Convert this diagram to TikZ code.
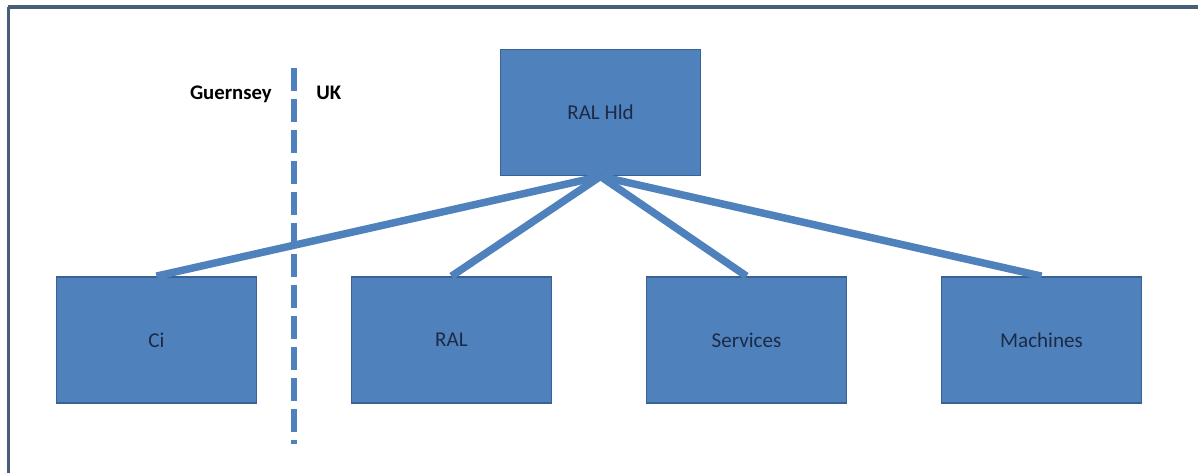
\documentclass[tikz,border=0pt]{standalone}
\usepackage{fontspec}
\setmainfont{Carlito}
\usetikzlibrary{positioning}

\definecolor{boxblue}{HTML}{4F81BD}
\definecolor{boxedge}{HTML}{3A6394}
\definecolor{boxtext}{HTML}{1C2B45}
\definecolor{frameline}{HTML}{465E78}

\tikzset{
  company/.style={draw=boxedge, line width=1pt, fill=boxblue, text=boxtext,
    minimum width=4cm, minimum height=2.52cm, inner sep=0pt,
    font=\fontsize{12}{14}\selectfont},
  link/.style={draw=boxblue, line width=0.15cm},
  border/.style={draw=boxblue, line width=0.12cm, dash pattern=on 0.46cm off 0.16cm},
  side/.style={inner sep=0pt, font=\fontsize{11.8}{14}\selectfont\bfseries}
}

\begin{document}
\begin{tikzpicture}[auto, on grid, node distance=5.9cm]
            \useasboundingbox (0,0) rectangle (23.96,-9.46);
            % frame
            \draw[frameline, line width=0.08cm] (0.16,-0.14) -- (23.96,-0.14);
            \draw[frameline, line width=0.06cm] (0.16,-0.14) -- (0.16,-9.46);

            \node[company] (hld) at (12.01,-2.25) {RAL Hld};
            \node[company] (ci) at (3.13,-6.8) {Ci};
            \node[company, right of = ci] (ral) {RAL};
            \node[company, right of = ral] (services) {Services};
            \node[company, right of = services] (machines) {Machines};

            % Guernsey / UK divide
            \coordinate (divtop) at (5.88,-1.36);
            \coordinate (divbottom) at (5.88,-8.88);
            \draw[border] (divtop) -- (divbottom);
            \node[side, anchor=base east] (guernsey) at (5.44,-1.98) {Guernsey};
            \node[side, anchor=base west] (uk) at (6.32,-1.98) {UK};

            \path[link] (hld.south) -- (ci.north);
            \path[link] (hld.south) -- (ral.north);
            \path[link] (hld.south) -- (services.north);
            \path[link] (hld.south) -- (machines.north);
        \end{tikzpicture}
\end{document}
